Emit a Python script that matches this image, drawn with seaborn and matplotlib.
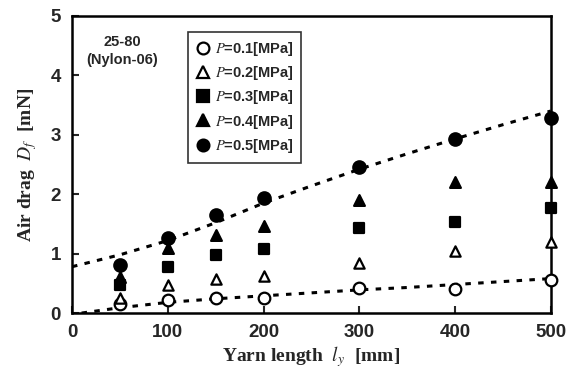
import numpy as np
import pandas as pd
import matplotlib
matplotlib.use("Agg")
import matplotlib.pyplot as plt
from matplotlib.lines import Line2D
import seaborn as sns

# Data
yarn_length = [50, 100, 150, 200, 300, 400, 500]
drag_p01 = [0.15, 0.22, 0.26, 0.25, 0.42, 0.40, 0.56]
drag_p02 = [0.25, 0.47, 0.57, 0.62, 0.85, 1.04, 1.19]
drag_p03 = [0.47, 0.78, 0.98, 1.08, 1.43, 1.54, 1.77]
drag_p04 = [0.61, 1.09, 1.32, 1.47, 1.90, 2.20, 2.20]
drag_p05 = [0.81, 1.26, 1.65, 1.93, 2.45, 2.93, 3.29]
pressures = ["0.1", "0.2", "0.3", "0.4", "0.5"]

# dotted trend curves
fit_x_high = [0, 50, 100, 150, 200, 250, 300, 350, 400, 450, 500]
fit_y_high = [0.78, 0.98, 1.22, 1.52, 1.85, 2.14, 2.42, 2.68, 2.93, 3.17, 3.40]
fit_x_low = [10, 50, 100, 150, 200, 250, 300, 350, 400, 450, 500]
fit_y_low = [0.0, 0.09, 0.18, 0.24, 0.29, 0.34, 0.39, 0.43, 0.48, 0.53, 0.58]

sns.set_theme(style="white")
plt.rcParams["font.family"] = ["Liberation Sans", "DejaVu Sans"]
plt.rcParams["mathtext.fontset"] = "stix"

fig = plt.figure(figsize=(5.78, 3.79), dpi=100)
ax = fig.add_axes([0.1246, 0.174, 0.8284, 0.784])

series = [drag_p01, drag_p02, drag_p03, drag_p04, drag_p05]
markers = ["o", "^", "s", "^", "o"]
fills = ["white", "white", "black", "black", "black"]
sizes = [70, 55, 55, 60, 80]

dots = (0, (1.8, 2.4))
sns.lineplot(x=fit_x_high, y=fit_y_high, ax=ax, color="black", lw=2.2,
             linestyle=dots, zorder=1)
sns.lineplot(x=fit_x_low, y=fit_y_low, ax=ax, color="black", lw=2.2,
             linestyle=dots, zorder=1)

handles = []
for vals, m, fc, s, p in zip(series, markers, fills, sizes, pressures):
    df = pd.DataFrame({"x": yarn_length, "y": vals})
    sns.scatterplot(data=df, x="x", y="y", ax=ax, marker=m, s=s,
                    facecolor=fc, edgecolor="black", linewidth=1.6,
                    zorder=3, clip_on=False)
    handles.append(Line2D([], [], marker=m, ls="none", markersize=8.5,
                          markerfacecolor=fc, markeredgecolor="black",
                          markeredgewidth=1.6,
                          label=r"$P$=" + p + "[MPa]"))

ax.set_xlim(0, 500)
ax.set_ylim(0, 5)
ax.set_xticks([0, 100, 200, 300, 400, 500])
ax.set_yticks([0, 1, 2, 3, 4, 5])
ax.tick_params(direction="in", length=5, width=1.5, labelsize=13.5, pad=8,
               left=True, bottom=True)
for lab in ax.get_xticklabels() + ax.get_yticklabels():
    lab.set_fontweight("bold")
for sp in ax.spines.values():
    sp.set_color("black")
    sp.set_linewidth(1.8)

ax.set_xlabel(r"Yarn length  $l_y$  [mm]", family="Liberation Serif",
              fontsize=14, fontweight="bold", labelpad=2)
ax.set_ylabel(r"Air drag  $D_f$  [mN]", family="Liberation Serif",
              fontsize=14, fontweight="bold", labelpad=8)

leg = ax.legend(handles=handles, loc="upper left",
                bbox_to_anchor=(0.226, 0.97), frameon=True, fancybox=False,
                edgecolor="black", handletextpad=0.3, borderpad=0.55,
                labelspacing=0.42, handlelength=1.0,
                prop={"weight": "bold", "size": 10.5})
leg.get_frame().set_linewidth(1.2)

ax.text(0.105, 0.935, "25-80\n(Nylon-06)", transform=ax.transAxes,
        ha="center", va="top", fontsize=10.5, fontweight="bold",
        linespacing=1.3)

fig.savefig("out.png", dpi=100)
